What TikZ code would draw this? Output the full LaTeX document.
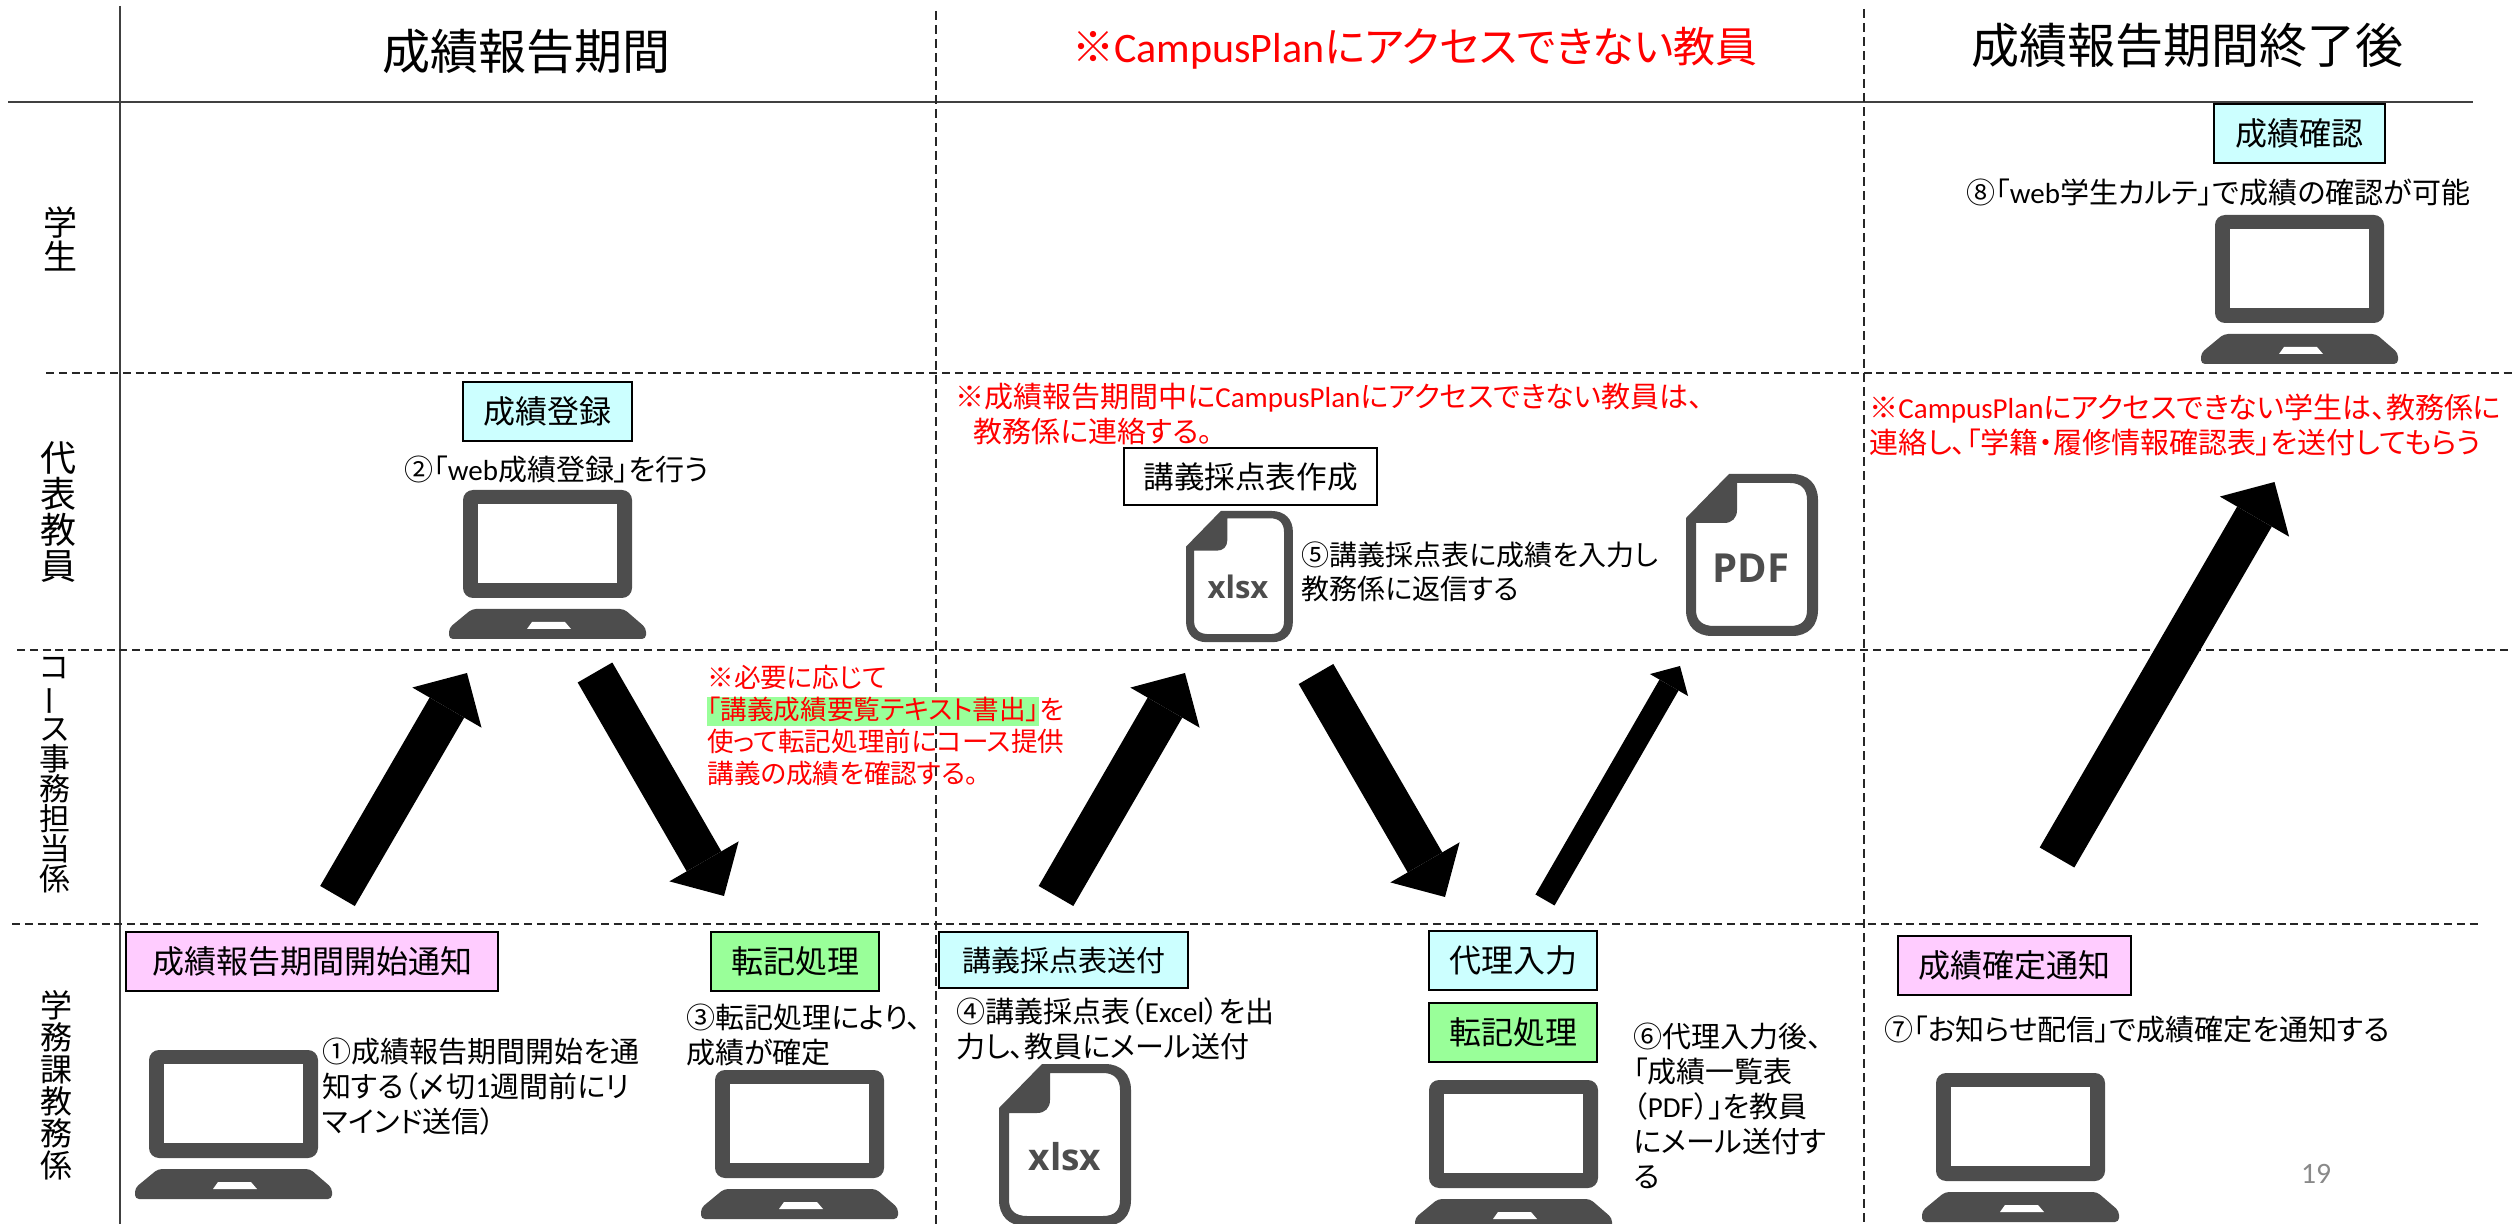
\documentclass[tikz,border=0pt]{standalone}
\usepackage{fontspec}
\setmainfont[RawFeature={+palt}]{Noto Sans CJK JP}
\newfontfamily\latfont{Carlito}
\newfontfamily\iconfont{Open Sans}
\newcommand{\lat}[1]{{\latfont #1}}
\usetikzlibrary{arrows.meta}
\definecolor{iconcol}{HTML}{4D4D4D}
\definecolor{cyanbox}{HTML}{CCFFFF}
\definecolor{pinkbox}{HTML}{FFCCFF}
\definecolor{greenbox}{HTML}{99FF99}
\definecolor{linecol}{HTML}{404040}
\definecolor{pagecol}{HTML}{898989}
\tikzset{
  pics/laptop/.style={code={
    \fill[iconcol,even odd rule,rounded corners=5pt] (14,0) rectangle (183,108);
    \fill[white] (29,14) rectangle (168,93);
    \fill[iconcol,rounded corners=2pt] (23,119) -- (175,119) -- (197,138) -- (197,149) -- (0,149) -- (0,138) -- cycle;
    \fill[white] (83,132) -- (116,132) -- (122,139) -- (78,139) -- cycle;
  }},
  pics/fileicon/.style={code={
    \fill[iconcol,even odd rule] (0,44) -- (43,0) -- (106,0) .. controls (122,0) and (132,10) .. (132,26)
      -- (132,136) .. controls (132,152) and (122,162) .. (106,162) -- (26,162)
      .. controls (10,162) and (0,152) .. (0,136) -- cycle
      (51,9) -- (104,9) .. controls (115,9) and (121,15) .. (121,26)
      -- (121,136) .. controls (121,147) and (115,152) .. (104,152) -- (28,152)
      .. controls (17,152) and (10,147) .. (10,136) -- (10,49) -- (38,49)
      .. controls (46,49) and (51,44) .. (51,36) -- cycle;
  }},
  solidline/.style={linecol,line width=1pt},
  rowline/.style={black!85,line width=0.9pt,dash pattern=on 4pt off 2.4pt},
  colline/.style={black!85,line width=0.6pt,dash pattern=on 4.5pt off 2.5pt},
  headtxt/.style={font=\fontsize{24}{28}\selectfont},
  sidetxt/.style={align=center,inner sep=0pt},
  statusbox/.style={draw=black,line width=1pt,inner sep=0pt,minimum height=29.5pt,font=\fontsize{16}{19}\selectfont},
  bodytxt/.style={anchor=north west,align=left,inner sep=0pt,font=\fontsize{14.5}{17.4}\selectfont},
  redtxt/.style={bodytxt,text=red},
  bigarrow/.style={line width=20pt,-{Triangle[width=40pt,length=20pt,line width=0pt]}},
  thinarrow/.style={line width=11pt,-{Triangle[width=22pt,length=11pt,line width=0pt]}},
  iconlabel/.style={text=iconcol,inner sep=0pt},
}
\begin{document}
\begin{tikzpicture}[x=0.5pt,y=-0.5pt]
\clip (0,0) rectangle (2512,1224);
\useasboundingbox (0,0) rectangle (2512,1224);
% frame lines
\draw[solidline] (8,102) -- (2473,102);
\draw[solidline] (120,6) -- (120,1224);
\draw[colline] (936,11) -- (936,1224);
\draw[colline] (1864,9) -- (1864,1224);
\draw[rowline] (46,373) -- (2512,373);
\draw[rowline] (17,650) -- (2512,650);
\draw[rowline] (12,924) -- (2478,924);
% headings
\node[headtxt] (headA) at (526,51) {成績報告期間};
\node[headtxt,text=red,font=\fontsize{21}{25}\selectfont] (headB) at (1415,48) {※\lat{CampusPlan}にアクセスできない教員};
\node[headtxt] (headC) at (2187,45) {成績報告期間終了後};
% row names
\node[sidetxt,font=\fontsize{17}{17}\selectfont] (rowA) at (60,239) {学\\生};
\node[sidetxt,font=\fontsize{18}{18}\selectfont] (rowB) at (58,512) {代\\表\\教\\員};
\node[sidetxt,font=\fontsize{15.5}{15}\selectfont] (rowC) at (55,775) {コ\\\rotatebox[origin=c]{90}{ー}\\ス\\事\\務\\担\\当\\係};
\node[sidetxt,font=\fontsize{16}{16}\selectfont] (rowD) at (56,1085) {学\\務\\課\\教\\務\\係};
% boxes
\node[statusbox,fill=pinkbox,minimum width=186pt] (startbox) at (312,961.5) {成績報告期間開始通知};
\node[statusbox,fill=greenbox,minimum width=84pt] (tenkiA) at (795,961.5) {転記処理};
\node[statusbox,fill=cyanbox,minimum width=84.5pt] (entrybox) at (547.5,411.5) {成績登録};
\node[statusbox,fill=cyanbox,minimum width=85.5pt] (checkbox) at (2299.5,133.5) {成績確認};
\node[statusbox,fill=white,minimum width=126.5pt,minimum height=28.5pt,font=\fontsize{15.3}{18}\selectfont] (makebox) at (1250.5,476.5) {講義採点表作成};
\node[statusbox,fill=cyanbox,minimum width=124.5pt,minimum height=28pt,font=\fontsize{14.5}{18}\selectfont] (sendbox) at (1063.5,960) {講義採点表送付};
\node[statusbox,fill=cyanbox,minimum width=84pt] (proxybox) at (1513,960.5) {代理入力};
\node[statusbox,fill=greenbox,minimum width=84pt] (tenkiB) at (1513,1032) {転記処理};
\node[statusbox,fill=pinkbox,minimum width=116.5pt] (fixbox) at (2014.5,965.5) {成績確定通知};
% computers and files
\pic at (135,1050) {laptop};
\pic at (701,1070) {laptop};
\pic at (449,490) {laptop};
\pic at (2201,215) {laptop};
\pic at (1415,1080) {laptop};
\pic at (1922,1073) {laptop};
\pic at (1686,474) {fileicon};
\pic[scale=0.81] at (1186,511) {fileicon};
\pic at (999,1064) {fileicon};
\node[iconlabel,font=\iconfont\bfseries\fontsize{20}{24}\selectfont] (pdfmark) at (1751,568) {PDF};
\node[iconlabel,font=\iconfont\bfseries\fontsize{15.5}{18}\selectfont] (xlsxA) at (1238,587) {xlsx};
\node[iconlabel,font=\iconfont\bfseries\fontsize{18.5}{22}\selectfont] (xlsxB) at (1065,1157) {xlsx};
% explanations
\node[bodytxt] (noteA) at (322,1038) {①成績報告期間開始を通\\知する（〆切\lat{1}週間前にリ\\マインド送信）};
\node[bodytxt] (noteB) at (404,456) {②「\lat{web}成績登録」を行う};
\node[bodytxt] (noteC) at (686,1004) {③転記処理により、\\成績が確定};
\node[bodytxt] (noteD) at (956,997) {④講義採点表（\lat{Excel}）を出\\力し、教員にメール送付};
\node[bodytxt,font=\fontsize{14}{17.4}\selectfont] (noteE) at (1301,541) {⑤講義採点表に成績を入力し\\教務係に返信する};
\node[bodytxt] (noteF) at (1633,1023) {⑥代理入力後、\\「成績一覧表\\（\lat{PDF}）」を教員\\にメール送付す\\る};
\node[bodytxt] (noteG) at (1884,1016) {⑦「お知らせ配信」で成績確定を通知する};
\node[bodytxt] (noteH) at (1966,179) {⑧「\lat{web}学生カルテ」で成績の確認が可能};
\node[redtxt] (redA) at (955,383) {※成績報告期間中に\lat{CampusPlan}にアクセスできない教員は、\\\hspace*{9pt}教務係に連絡する。};
\node[redtxt] (redB) at (1869,394) {※\lat{CampusPlan}にアクセスできない学生は、教務係に\\連絡し、「学籍・履修情報確認表」を送付してもらう};
\node[redtxt,font=\fontsize{13.3}{16}\selectfont] (redC) at (707,665) {※必要に応じて\\{\fboxsep=0pt\colorbox{greenbox}{\rule[-3pt]{0pt}{14pt}「講義成績要覧テキスト書出」}}を\\使って転記処理前にコース提供\\講義の成績を確認する。};
\node[text=pagecol,inner sep=0pt,font=\latfont\fontsize{14.8}{18}\selectfont] (pagenum) at (2316,1174) {19};
% arrows
\coordinate (stepAtail) at (337.5,896);
\coordinate (stepAtip) at (467,673);
\coordinate (stepBtail) at (595,672.5);
\coordinate (stepBtip) at (724,896);
\coordinate (stepCtail) at (1056,896);
\coordinate (stepCtip) at (1185,673);
\coordinate (stepDtail) at (1316,674);
\coordinate (stepDtip) at (1445,897);
\coordinate (stepEtail) at (1545,900);
\coordinate (stepEtip) at (1680,666);
\coordinate (stepFtail) at (2057,857.5);
\coordinate (stepFtip) at (2274.5,482);
\draw[bigarrow] (stepAtail) -- (stepAtip);
\draw[bigarrow] (stepBtail) -- (stepBtip);
\draw[bigarrow] (stepCtail) -- (stepCtip);
\draw[bigarrow] (stepDtail) -- (stepDtip);
\draw[thinarrow] (stepEtail) -- (stepEtip);
\draw[bigarrow] (stepFtail) -- (stepFtip);
\end{tikzpicture}
\end{document}
